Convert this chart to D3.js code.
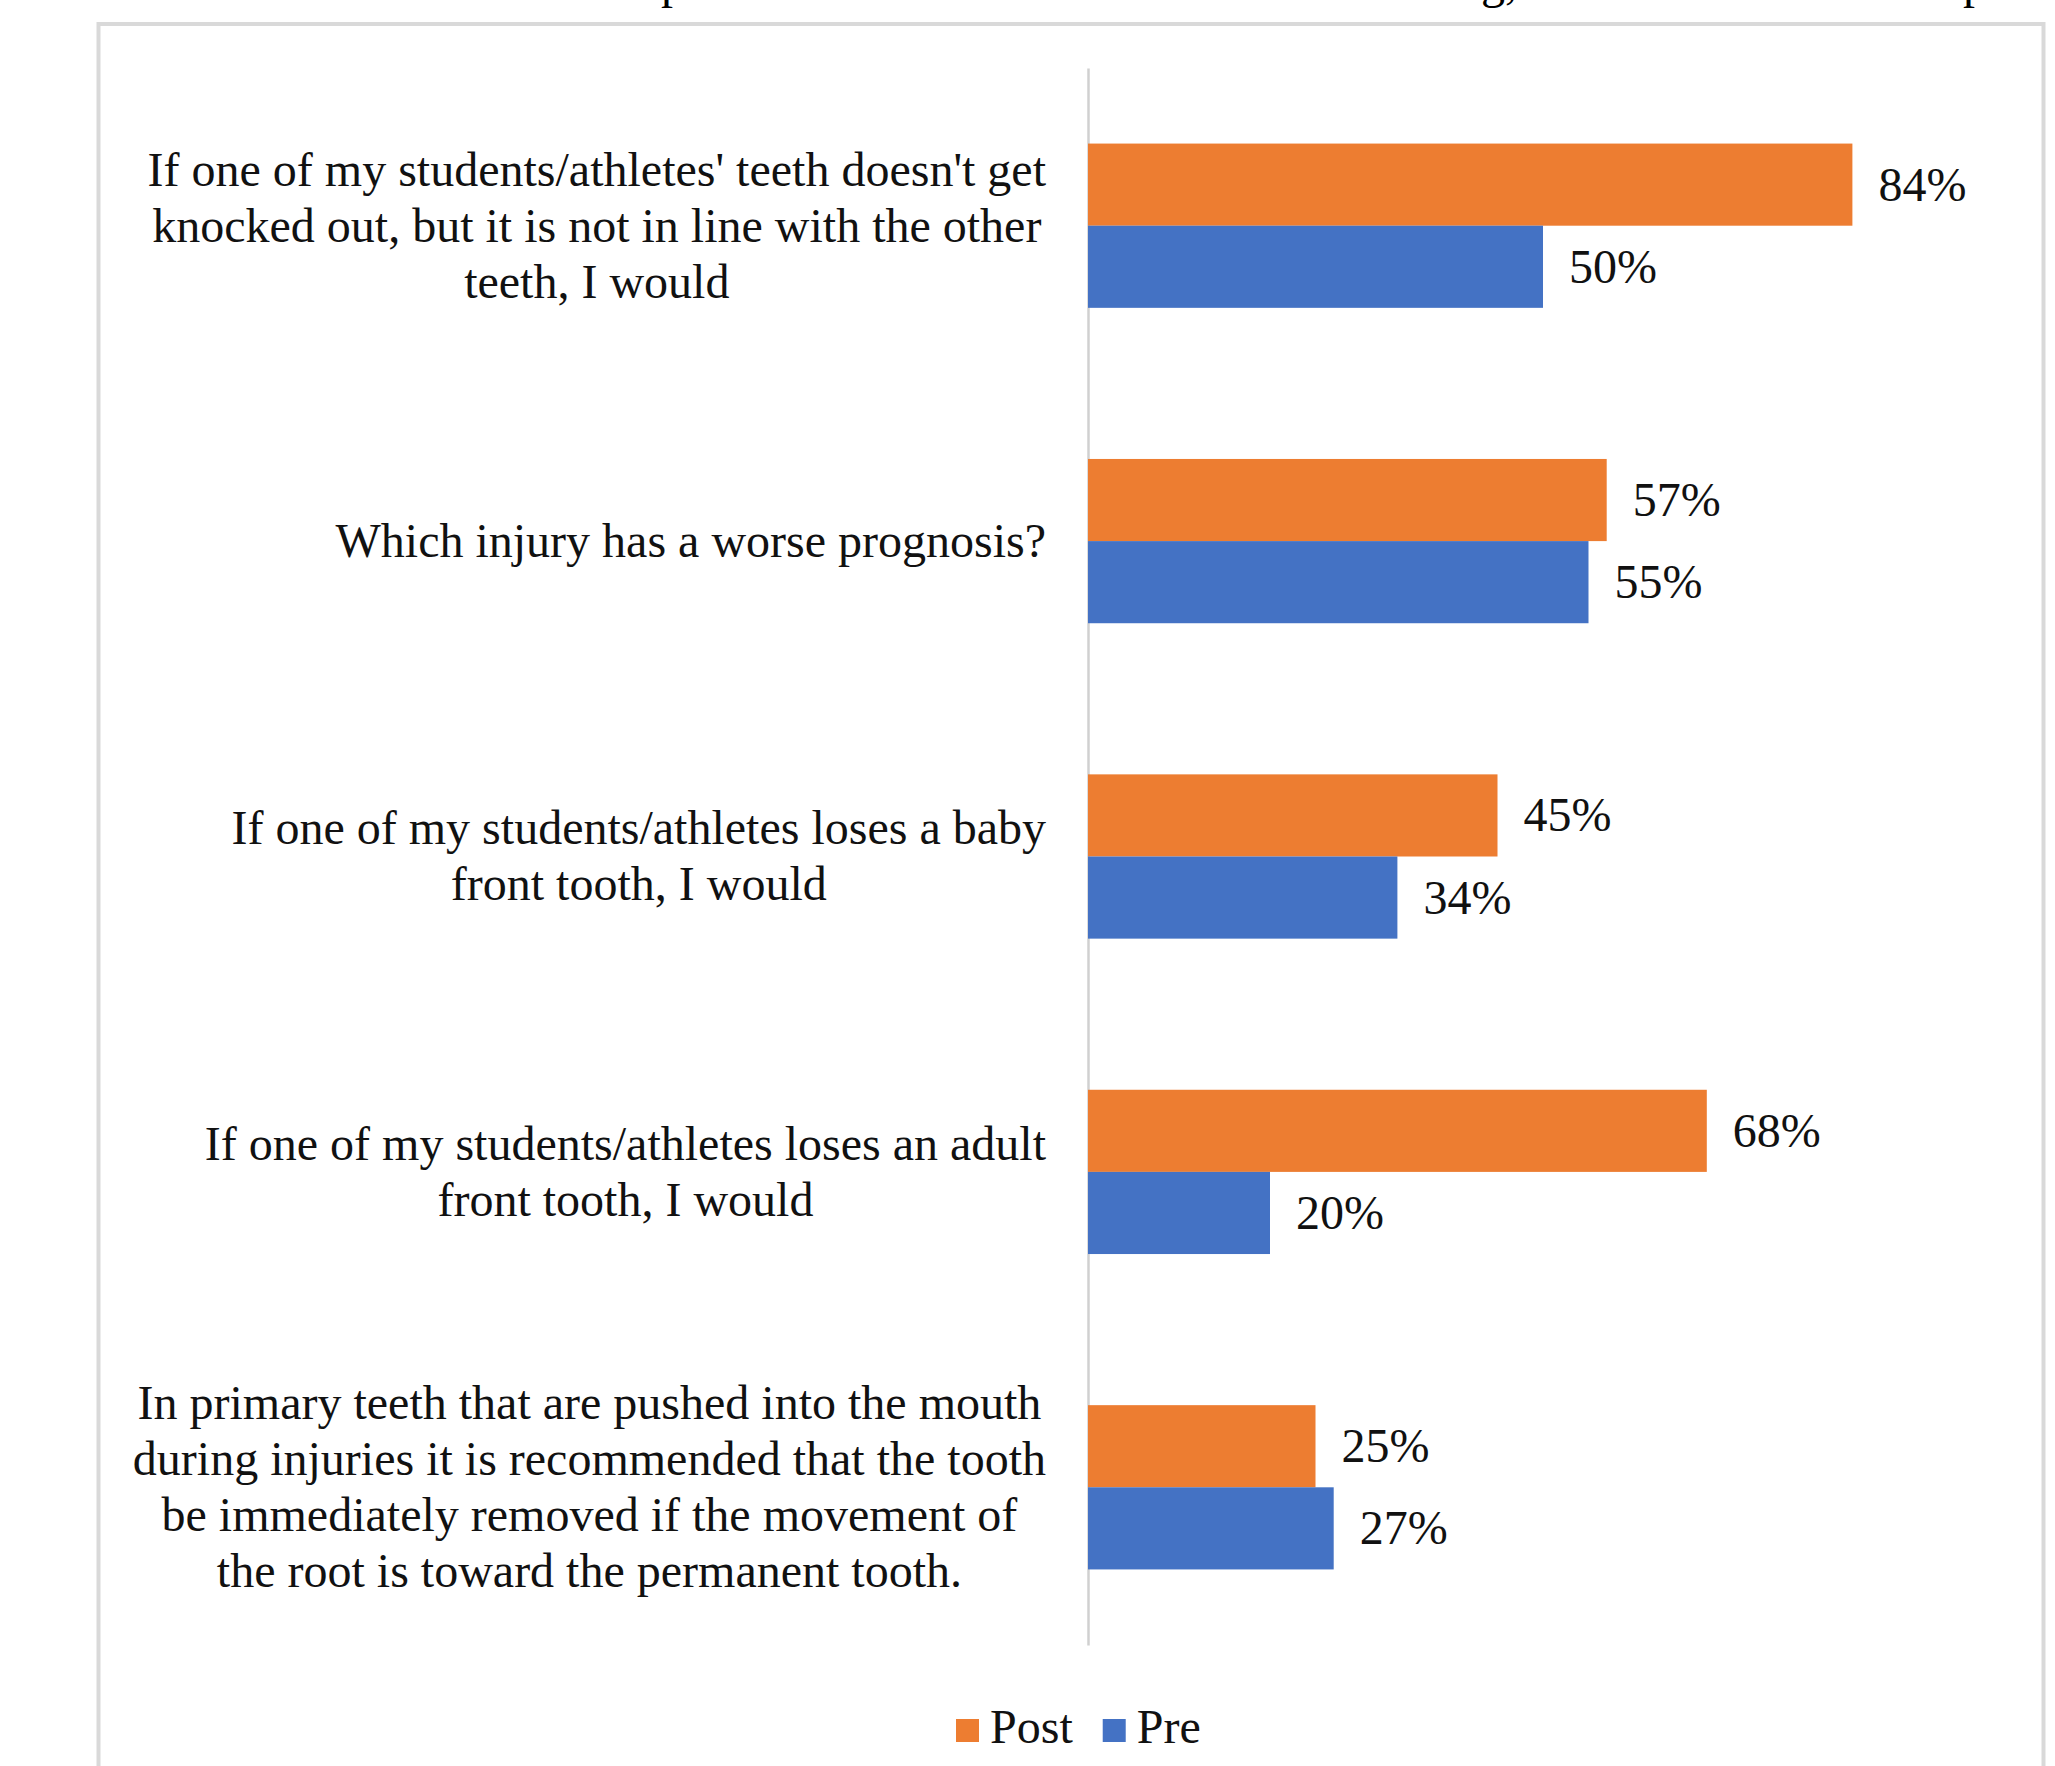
<!DOCTYPE html>
<html>
<head>
<meta charset="utf-8">
<script src="https://cdn.jsdelivr.net/npm/d3@7"></script>
<style>
  body { margin: 0; background: #fff; }
  svg text { font-family: "Liberation Serif", "Times New Roman", serif; }
</style>
</head>
<body>
<script>
    // question labels, already broken into the lines used in the chart
    var questions = [
        ["If one of my students/athletes' teeth doesn't get", "knocked out, but it is not in line with the other", "teeth, I would"],
        ["Which injury has a worse prognosis?"],
        ["If one of my students/athletes loses a baby", "front tooth, I would"],
        ["If one of my students/athletes loses an adult", "front tooth, I would"],
        ["In primary teeth that are pushed into the mouth", "during injuries it is recommended that the tooth", "be immediately removed if the movement of", "the root is toward the permanent tooth."]
    ];
    var seriesNames = ["Post", "Pre"];
    var postValues = [84, 57, 45, 68, 25];
    var preValues = [50, 55, 34, 20, 27];
    var seriesColors = ["#ED7D31", "#4472C4"];

    // clipped caption line above the chart (only descenders visible)
    var cutText = [{t: "p", x: 661}, {t: "g,", x: 1481}, {t: "p", x: 1963}];

    var W = 2055, H = 1766;
    var fontSize = 48, lineH = 56;

    var rows = questions.map(function(q, i) {
        return {id: i, lines: q, values: [postValues[i], preValues[i]]};
    });

    var svg = d3.select("body").append("svg")
        .attr("width", W)
        .attr("height", H);

    svg.append("rect").attr("width", W).attr("height", H).attr("fill", "#fff");

    svg.selectAll(".cut")
        .data(cutText)
        .enter()
        .append("text")
        .attr("class", "cut")
        .attr("x", function(d) { return d.x; })
        .attr("y", -2)
        .attr("font-size", fontSize)
        .attr("fill", "#000")
        .text(function(d) { return d.t; });

    // chart frame
    svg.append("rect")
        .attr("x", 98.5)
        .attr("y", 24)
        .attr("width", 1945)
        .attr("height", 1800)
        .attr("fill", "#fff")
        .attr("stroke", "#d9d9d9")
        .attr("stroke-width", 4);

    var x = d3.scaleLinear()
        .domain([0, 100])
        .range([1088, 1998]);

    var y = d3.scaleBand()
        .domain(rows.map(function(d) { return d.id; }))
        .range([68, 1645])
        .padding(0);

    var ySub = d3.scaleBand()
        .domain([0, 1])
        .range([0, y.bandwidth()])
        .paddingInner(0)
        .paddingOuter(0.92);

    // vertical category axis
    var yAxis = d3.axisLeft(y).tickSize(0).tickFormat("");
    var gAxis = svg.append("g")
        .attr("transform", "translate(" + x(0) + ",0)")
        .call(yAxis);
    gAxis.select(".domain")
        .attr("stroke", "#d0d0d0")
        .attr("stroke-width", 2.5);

    var groups = svg.selectAll(".grp")
        .data(rows)
        .enter()
        .append("g")
        .attr("class", "grp")
        .attr("transform", function(d) { return "translate(0," + y(d.id) + ")"; });

    groups.selectAll("rect")
        .data(function(d) { return d.values; })
        .enter()
        .append("rect")
        .attr("x", x(0))
        .attr("y", function(d, i) { return ySub(i); })
        .attr("width", function(d) { return x(d) - x(0); })
        .attr("height", ySub.bandwidth())
        .attr("fill", function(d, i) { return seriesColors[i]; });

    groups.selectAll(".val")
        .data(function(d) { return d.values; })
        .enter()
        .append("text")
        .attr("class", "val")
        .attr("x", function(d) { return x(d) + 26; })
        .attr("y", function(d, i) { return ySub(i) + ySub.bandwidth() / 2 + 16; })
        .attr("font-size", fontSize)
        .attr("fill", "#111")
        .text(function(d) { return d + "%"; });

    // category labels: block right-aligned to 1046, lines centred in the block
    groups.each(function(d) {
        var g = d3.select(this);
        var n = d.lines.length;
        var mid = y.bandwidth() / 2;
        var lab = g.append("g");
        var txt = lab.selectAll("text")
            .data(d.lines)
            .enter()
            .append("text")
            .attr("font-size", fontSize)
            .attr("fill", "#111")
            .attr("text-anchor", "middle")
            .attr("y", function(t, i) { return mid + (i - (n - 1) / 2) * lineH + 16; })
            .text(function(t) { return t; });
        var maxW = 0;
        txt.each(function() { maxW = Math.max(maxW, this.getComputedTextLength()); });
        txt.attr("x", 1046 - maxW / 2);
    });

    // legend
    var legend = svg.append("g");
    var lx = 956;
    seriesNames.forEach(function(s, i) {
        legend.append("rect")
            .attr("x", lx)
            .attr("y", 1719)
            .attr("width", 23)
            .attr("height", 23)
            .attr("fill", seriesColors[i]);
        var t = legend.append("text")
            .attr("x", lx + 34)
            .attr("y", 1743)
            .attr("font-size", fontSize)
            .attr("fill", "#111")
            .text(s);
        lx += 34 + t.node().getComputedTextLength() + 30;
    });
</script>
</body>
</html>
